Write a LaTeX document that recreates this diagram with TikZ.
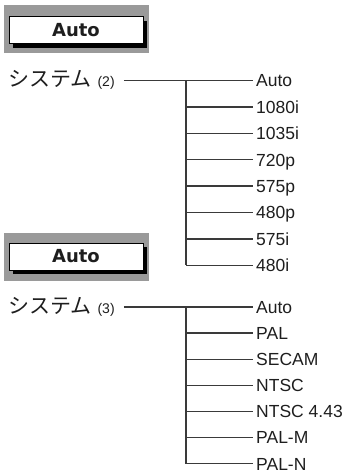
\documentclass[tikz,border=0pt]{standalone}
\usepackage{fontspec}
\setmainfont{Liberation Sans}
\newfontfamily\jpfont{Noto Sans CJK JP}
\newfontfamily\menufont{DejaVu Sans}
\usetikzlibrary{shadows}
\definecolor{PanelGrey}{HTML}{9A9A9A}
\definecolor{TreeLine}{HTML}{3A3A3A}
\definecolor{LabelText}{HTML}{1E1E1E}

\begin{document}
\begin{tikzpicture}[x=1pt,y=-1pt,every node/.style={text=LabelText},
  panel/.style={fill=PanelGrey,minimum width=145pt,minimum height=48pt,inner sep=0pt,anchor=north west},
  menubox/.style={draw=black,line width=1pt,fill=white,minimum width=134pt,minimum height=27pt,inner sep=0pt,
    font=\menufont\bfseries\fontsize{18}{18}\selectfont,
    drop shadow={shadow xshift=4pt,shadow yshift=-4pt,fill=black,opacity=1}},
  sysname/.style={anchor=base west,inner sep=0pt,font=\fontsize{14}{15}\selectfont},
  item/.style={anchor=west,inner xsep=3pt,inner ysep=0pt,text height=12.8pt,text depth=0pt,font=\fontsize{17.5}{18}\selectfont},
  feed/.style={TreeLine,line width=1.3pt},
  trunk/.style={TreeLine,line width=1.8pt}]
\useasboundingbox (0,0) rectangle (350,476);
% first menu: (2)
\node[panel] (pan1) at (4,5) {}; \node[menubox] (hdr1) at (76,30.5) {Auto};
\node[sysname] (sys2) at (8,87) {{\jpfont\fontsize{21}{22}\selectfont システム}\hspace{6pt}(2)};
\foreach \t [count=\i from 0] in {Auto,1080i,1035i,720p,575p,480p,575i,480i}
  \node[item] (m\i) at (253,80.5+26.4*\i) {\t};
\coordinate (trunk2) at (186,80.5);
\draw[feed] ([xshift=9pt]sys2.east |- m0.west) -- (m0.west);
\draw[trunk] (trunk2) -- (trunk2 |- m7.west);
\foreach \i in {1,...,7} \draw[feed] (trunk2 |- m\i.west) -- (m\i.west);
% second menu: (3)
\node[panel] (pan2) at (4,233) {}; \node[menubox] (hdr2) at (76,256.5) {Auto};
\node[sysname] (sys3) at (8,313.5) {{\jpfont\fontsize{21}{22}\selectfont システム}\hspace{6pt}(3)};
\foreach \t [count=\i from 0] in {Auto,PAL,SECAM,NTSC,NTSC 4.43,PAL-M,PAL-N}
  \node[item] (n\i) at (253,307+26.1*\i) {\t};
\coordinate (trunk3) at (186,307);
\draw[feed] ([xshift=9pt]sys3.east |- n0.west) -- (n0.west);
\draw[trunk] (trunk3) -- (trunk3 |- n6.west);
\foreach \i in {1,...,6} \draw[feed] (trunk3 |- n\i.west) -- (n\i.west);
\end{tikzpicture}
\end{document}
